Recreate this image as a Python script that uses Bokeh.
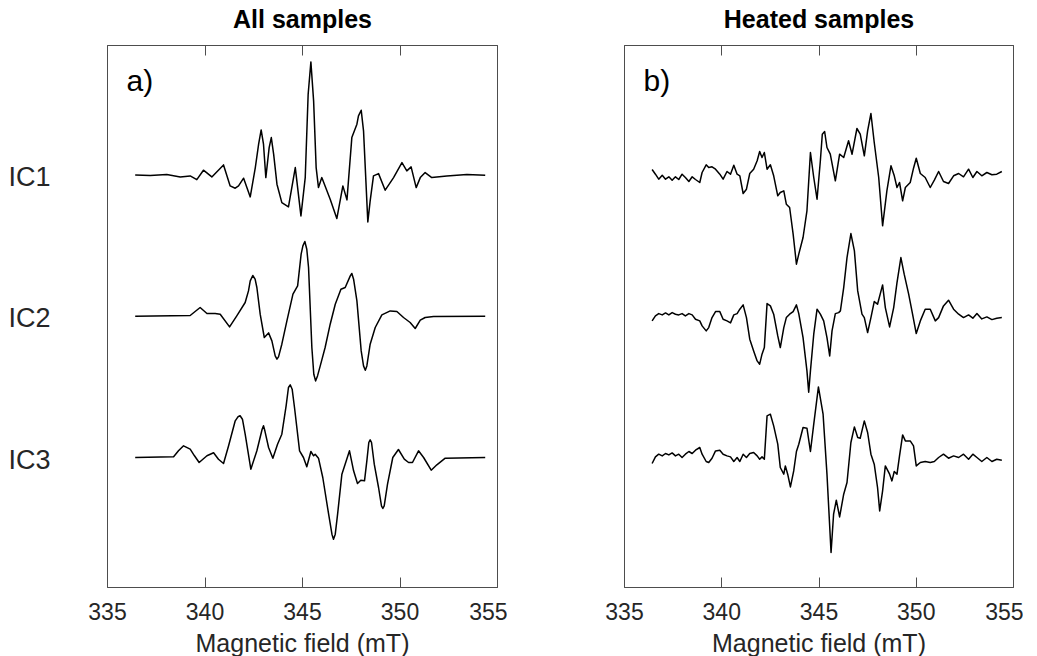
import numpy as np
from bokeh.plotting import figure
from bokeh.models import Range1d, LinearAxis, FixedTicker, Label, CustomLabelingPolicy
from bokeh.layouts import row
from bokeh.embed import file_html
from bokeh.resources import INLINE

# ---------------- data ----------------
field_ticks = [335, 340, 345, 350, 355]
component_names = ["IC1", "IC2", "IC3"]
component_label_pos = [411, 270, 128]

# a) All samples
a_ic1_field = [336.42, 337.19, 338.04, 338.73, 339.24, 339.58, 339.92, 340.35, 340.95, 341.29,
               341.55, 341.72, 341.98, 342.32, 342.58, 342.75, 342.88, 343.00, 343.12, 343.29,
               343.40, 343.52, 343.69, 343.94, 344.28, 344.63, 344.92, 345.14, 345.29, 345.43,
               345.57, 345.70, 345.82, 345.99, 346.42, 346.76, 347.07, 347.28, 347.53, 347.79,
               347.87, 348.01, 348.13, 348.35, 348.47, 348.64, 348.90, 349.24, 349.67, 350.10,
               350.35, 350.57, 350.83, 351.04, 351.29, 351.63, 352.40, 353.43, 354.37]
a_ic1_signal = [0, -0.7, 0.3, -2, -1, -4.7, 4.7, -2, 10, -11,
                -13.3, -11, -3.3, -22, 7.3, 30.7, 45, 30.7, -2.7, 27.3,
                37.3, 20.7, -9.3, -27.7, -32, 7.3, -41, -2.7, 80.7, 113,
                74, 7.3, -12.7, -2.7, -24.3, -43.7, -11, -25, 37.3, 50.7,
                59, 64.7, 44, -47, -26, -1, 1.3, -15.3, -2.7, 12.3,
                4, 8, -12.7, -2.7, 2.3, -2.7, -1, 0.3, -0.3]

a_ic2_field = [336.42, 339.24, 339.75, 340.10, 340.52, 340.78, 341.26, 341.63, 342.06, 342.23,
               342.32, 342.45, 342.57, 342.66, 342.83, 343.04, 343.26, 343.43, 343.60, 343.69,
               343.77, 343.94, 344.20, 344.51, 344.75, 344.93, 345.02, 345.12, 345.22, 345.31,
               345.48, 345.58, 345.67, 345.77, 345.91, 346.16, 346.42, 346.68, 346.97, 347.19,
               347.45, 347.53, 347.62, 347.79, 348.01, 348.13, 348.22, 348.30, 348.47, 348.73,
               349.07, 349.50, 349.84, 350.18, 350.52, 350.78, 351.04, 351.29, 351.72, 354.37]
a_ic2_signal = [0, 0.7, 8.7, 2.7, 2.7, 2, -10.7, 0.3, 13.7, 25.3,
                35.3, 40.7, 37, 28.7, 2, -21.3, -16.7, -24.7, -39.7, -43,
                -40.7, -28, -4.7, 22, 30.3, 62, 70.3, 74.7, 67, 48.7,
                -31.3, -58, -64.7, -59.7, -49.7, -31.3, -8, 12, 27, 28.7,
                40.3, 42.7, 37, 15.3, -34.7, -49.7, -54, -49.7, -28, -11.3,
                1.3, 5.3, 4.7, -1.3, -6.3, -12.3, -4, -1.3, -0.3, 0]

a_ic3_field = [336.42, 338.39, 338.64, 338.90, 339.24, 339.46, 339.70, 340.10, 340.44, 340.69,
               340.95, 341.21, 341.55, 341.69, 341.80, 341.92, 342.06, 342.35, 342.66, 342.93,
               343.00, 343.07, 343.26, 343.48, 343.72, 343.94, 344.16, 344.28, 344.37, 344.47,
               344.59, 344.85, 345.05, 345.22, 345.43, 345.57, 345.65, 345.82, 346.04, 346.34,
               346.51, 346.59, 346.68, 346.80, 347.02, 347.41, 347.62, 347.82, 347.99, 348.18,
               348.30, 348.40, 348.47, 348.54, 348.68, 348.90, 349.05, 349.12, 349.19, 349.36,
               349.63, 349.92, 350.22, 350.44, 350.64, 350.95, 351.21, 351.60, 351.89, 352.32,
               354.37]
a_ic3_signal = [0, 0.7, 6.7, 11.7, 8.3, 1.7, -5, 1.7, 4.7, -1.7,
                -6, 11.7, 36.7, 40.7, 41.7, 38.3, 23.3, -11.7, 6.7, 28.3,
                31.7, 26.7, 10, -0.7, 13.3, 23.3, 51.7, 70, 72.7, 68.3,
                50, 6.7, 0, -9.3, 6, 1.7, 3.3, -0.7, -20, -56.7,
                -76.7, -81.7, -76.7, -56.7, -16.7, 6.7, -13.3, -26, -22.7, -23.3,
                -3.3, 15, 17.7, 15, -6.7, -30, -48.3, -51, -48.3, -26.7,
                0, 8, -1.7, -5, -5, 6.7, 0, -12.7, -7.3, -0.7,
                0]

# b) Heated samples
b_ic1_field = [336.42, 336.59, 336.76, 336.94, 337.11, 337.28, 337.45, 337.62, 337.79, 337.96,
               338.13, 338.31, 338.48, 338.65, 338.87, 338.99, 339.20, 339.33, 339.50, 339.68,
               339.90, 340.07, 340.27, 340.45, 340.62, 340.79, 340.93, 341.10, 341.27, 341.44,
               341.64, 341.82, 341.95, 342.07, 342.19, 342.33, 342.50, 342.67, 342.88, 343.01,
               343.19, 343.32, 343.49, 343.67, 343.84, 343.96, 344.18, 344.38, 344.56, 344.73,
               344.90, 345.07, 345.17, 345.29, 345.41, 345.58, 345.84, 346.06, 346.27, 346.52,
               346.70, 346.95, 347.12, 347.33, 347.50, 347.67, 347.84, 348.07, 348.27, 348.49,
               348.70, 348.87, 349.01, 349.14, 349.30, 349.44, 349.69, 349.86, 350.00, 350.21,
               350.46, 350.72, 350.93, 351.15, 351.40, 351.66, 351.92, 352.18, 352.43, 352.69,
               352.91, 353.12, 353.37, 353.63, 353.89, 354.14, 354.40]
b_ic1_signal = [8, 3.3, -1.7, 2.3, -1.7, 0.7, -2.7, 0.7, -2, 3.3,
                0, -4, 0.7, -2, -5, 5, 12.7, 10, 10.7, 8.3,
                3.3, -1.7, 6, 3.3, 12.3, 3.3, 1.7, -16, -11.7, 4,
                8.3, 16.7, 26, 20, 25, 8.3, 12.7, 1.7, -18.3, -15,
                -13.3, -26.7, -30, -56.7, -86.7, -76.7, -60, -33.3, 25, 0,
                -21.7, 16.7, 43.3, 46, 30, 23.3, -3.3, 23.3, 20, 36.7,
                23.3, 49, 43.3, 21.7, 46.7, 64, 35, 0, -48.3, -13.3,
                11.7, 1.7, -10, -5, -23.3, -10, -5, 9.3, 19.3, 4,
                0, -10, -2.7, 6, -4, -6, 1.7, 4, 0.7, 8.3,
                0, 6, 1.7, 5, 2.7, 3.3, 6]

b_ic2_field = [336.42, 336.59, 336.76, 336.94, 337.11, 337.28, 337.45, 337.62, 337.79, 337.96,
               338.13, 338.31, 338.48, 338.65, 338.87, 338.99, 339.20, 339.33, 339.50, 339.68,
               339.90, 340.07, 340.27, 340.45, 340.62, 340.79, 340.93, 341.10, 341.27, 341.44,
               341.64, 341.82, 341.95, 342.07, 342.19, 342.33, 342.50, 342.67, 342.88, 343.01,
               343.19, 343.32, 343.49, 343.67, 343.84, 343.96, 344.18, 344.38, 344.47, 344.56,
               344.73, 344.90, 345.07, 345.24, 345.41, 345.55, 345.67, 345.84, 346.01, 346.10,
               346.27, 346.44, 346.64, 346.82, 346.99, 347.21, 347.33, 347.50, 347.67, 347.84,
               348.01, 348.27, 348.41, 348.63, 348.84, 349.01, 349.21, 349.38, 349.61, 349.81,
               350.00, 350.21, 350.46, 350.72, 350.98, 351.15, 351.40, 351.66, 351.92, 352.18,
               352.43, 352.69, 352.91, 353.12, 353.37, 353.63, 353.89, 354.14, 354.40]
b_ic2_signal = [-5, 0, 2.3, 1, 3, 1, 3.3, 1.7, 1, 2.3,
                0, 2.3, 1, -3.3, -5, -10, -15, -11.7, -1.7, 4.3,
                4.3, -3.3, -5, -7, 1, 2.3, 6.7, 11, -1.7, -23.3,
                -35, -45, -48.3, -38.3, -31.7, 12.3, 10, 1.7, -20, -31.7,
                -11.7, -1.7, 1.7, 4.3, 11, 2.3, -21.7, -55, -76.3, -55,
                -18.3, 6.7, 1.7, -5, -21.7, -40, -15, 2.3, 3.3, 5,
                28.3, 58.3, 82.3, 65, 25, 1.7, -1.7, -16.7, -1.7, 14.3,
                11.7, 31, 8.3, -11, 8.3, 33.3, 58.3, 41.7, 21.7, 1.7,
                -17.7, -5, 6.7, 6.7, -5, -1.7, 10, 15.7, 6.7, 1.7,
                -1.7, 1, -2.3, 2.3, -3, -1, -3.7, -2.3, -1.7]

b_ic3_field = [336.42, 336.59, 336.76, 336.94, 337.11, 337.28, 337.45, 337.62, 337.79, 337.96,
               338.13, 338.31, 338.48, 338.65, 338.87, 338.99, 339.20, 339.33, 339.50, 339.68,
               339.90, 340.07, 340.27, 340.45, 340.62, 340.79, 340.93, 341.10, 341.27, 341.44,
               341.64, 341.82, 341.95, 342.07, 342.19, 342.33, 342.50, 342.67, 342.88, 343.01,
               343.19, 343.27, 343.39, 343.53, 343.70, 343.84, 343.96, 344.18, 344.38, 344.56,
               344.73, 344.97, 345.21, 345.41, 345.62, 345.75, 345.89, 346.06, 346.27, 346.44,
               346.64, 346.82, 346.99, 347.12, 347.33, 347.50, 347.67, 347.84, 348.01, 348.12,
               348.27, 348.41, 348.63, 348.75, 348.87, 349.01, 349.14, 349.30, 349.44, 349.69,
               349.86, 350.00, 350.21, 350.46, 350.72, 350.93, 351.15, 351.40, 351.66, 351.92,
               352.18, 352.43, 352.69, 352.91, 353.12, 353.37, 353.63, 353.89, 354.14, 354.40]
b_ic3_signal = [-4.3, 2.3, 5, 3.3, 5.7, 4.3, 6.3, 3.3, 5, 1.7,
                5, 7.7, 5.7, 9, 11.7, 5, -2.3, -3.3, 1, 8.3,
                9, 5, 3.3, 2.3, -2.3, 1.7, -2.3, 5, 1.7, 5.7,
                6.7, 3.3, 0, 2.3, 0, 43.3, 45, 33.3, 15, -8.3,
                -15, -6.7, -15, -27.7, -11.7, 7.7, 15, 31.7, 31, 7.7,
                35, 72.3, 45, -15, -93.3, -55, -41, -57.7, -35, -23.3,
                16.7, 32.3, 21.7, 21, 38.3, 26.7, 5, -5, -28.3, -51.7,
                -31.7, -6.7, -15, -21.7, -12.3, -15, 3.3, 24.3, 18.3, 18.3,
                13.3, -6.7, -3.3, -2.3, -3.3, -2.3, 1.7, 5, 1, 3.3,
                1.7, 5, 0, 5, 1.7, -2.3, 1.7, -2.3, 0, -1]

# vertical offsets of the stacked spectra
a_offsets = [412.6, 271.3, 130.0]
b_offsets = [410.0, 271.6, 128.3]

# ---------------- styling ----------------
FONT = "Liberation Sans"
TXT = "#262626"
FRAME = "#4d4d4d"


def make_panel(title, border_left, border_right, frame_w):
    p = figure(frame_width=frame_w, frame_height=542,
               x_range=Range1d(335, 355), y_range=Range1d(0, 542),
               min_border_left=border_left, min_border_right=border_right,
               min_border_top=42, min_border_bottom=72,
               output_backend="svg", toolbar_location=None, title=title)
    p.title.text_font = FONT
    p.title.text_font_size = "25px"
    p.title.text_font_style = "bold"
    p.title.text_color = "black"
    p.title.align = "center"
    p.title.standoff = 4
    p.grid.visible = False
    p.outline_line_color = FRAME
    p.outline_line_width = 1
    p.background_fill_color = "white"
    p.border_fill_color = "white"

    xa = p.xaxis[0]
    xa.ticker = FixedTicker(ticks=field_ticks)
    xa.major_tick_in = 10
    xa.major_tick_out = 0
    xa.minor_tick_in = 0
    xa.minor_tick_out = 0
    xa.axis_line_color = FRAME
    xa.major_tick_line_color = FRAME
    xa.major_label_text_font = FONT
    xa.major_label_text_font_size = "23px"
    xa.major_label_text_color = TXT
    xa.major_label_standoff = 15
    xa.axis_label = "Magnetic field (mT)"
    xa.axis_label_text_font = FONT
    xa.axis_label_text_font_size = "25px"
    xa.axis_label_text_font_style = "normal"
    xa.axis_label_text_color = TXT
    xa.axis_label_standoff = 6

    top = LinearAxis(ticker=FixedTicker(ticks=field_ticks),
                     major_tick_in=10, major_tick_out=0,
                     minor_tick_in=0, minor_tick_out=0,
                     major_label_policy=CustomLabelingPolicy(code="return new Set()"),
                     major_label_standoff=0,
                     axis_line_color=FRAME, major_tick_line_color=FRAME)
    p.add_layout(top, "above")
    return p


p1 = make_panel("All samples", 107, 10, 390)
ya = p1.yaxis[0]
ya.ticker = FixedTicker(ticks=component_label_pos)
ya.major_label_overrides = {pos: name for pos, name in zip(component_label_pos, component_names)}
ya.major_tick_in = 0
ya.major_tick_out = 0
ya.minor_tick_in = 0
ya.minor_tick_out = 0
ya.axis_line_color = None
ya.major_label_text_font = FONT
ya.major_label_text_font_size = "27px"
ya.major_label_text_color = TXT
ya.major_label_standoff = 57

p2 = make_panel("Heated samples", 117, 10, 389)
p2.yaxis.visible = False

a_series = [(a_ic1_field, a_ic1_signal), (a_ic2_field, a_ic2_signal), (a_ic3_field, a_ic3_signal)]
b_series = [(b_ic1_field, b_ic1_signal), (b_ic2_field, b_ic2_signal), (b_ic3_field, b_ic3_signal)]

for (fx, sy), off in zip(a_series, a_offsets):
    p1.line(fx, np.array(sy) + off, line_color="black", line_width=1.5, line_join="round")
for (fx, sy), off in zip(b_series, b_offsets):
    p2.line(fx, np.array(sy) + off, line_color="black", line_width=1.5, line_join="round")

p1.add_layout(Label(x=335.98, y=507, text="a)", text_font=FONT, text_font_size="30px",
                    text_baseline="alphabetic", text_color="black"))
p2.add_layout(Label(x=335.98, y=507, text="b)", text_font=FONT, text_font_size="30px",
                    text_baseline="alphabetic", text_color="black"))

layout = row(p1, p2)
open("out.html", "w").write(file_html(layout, INLINE))
